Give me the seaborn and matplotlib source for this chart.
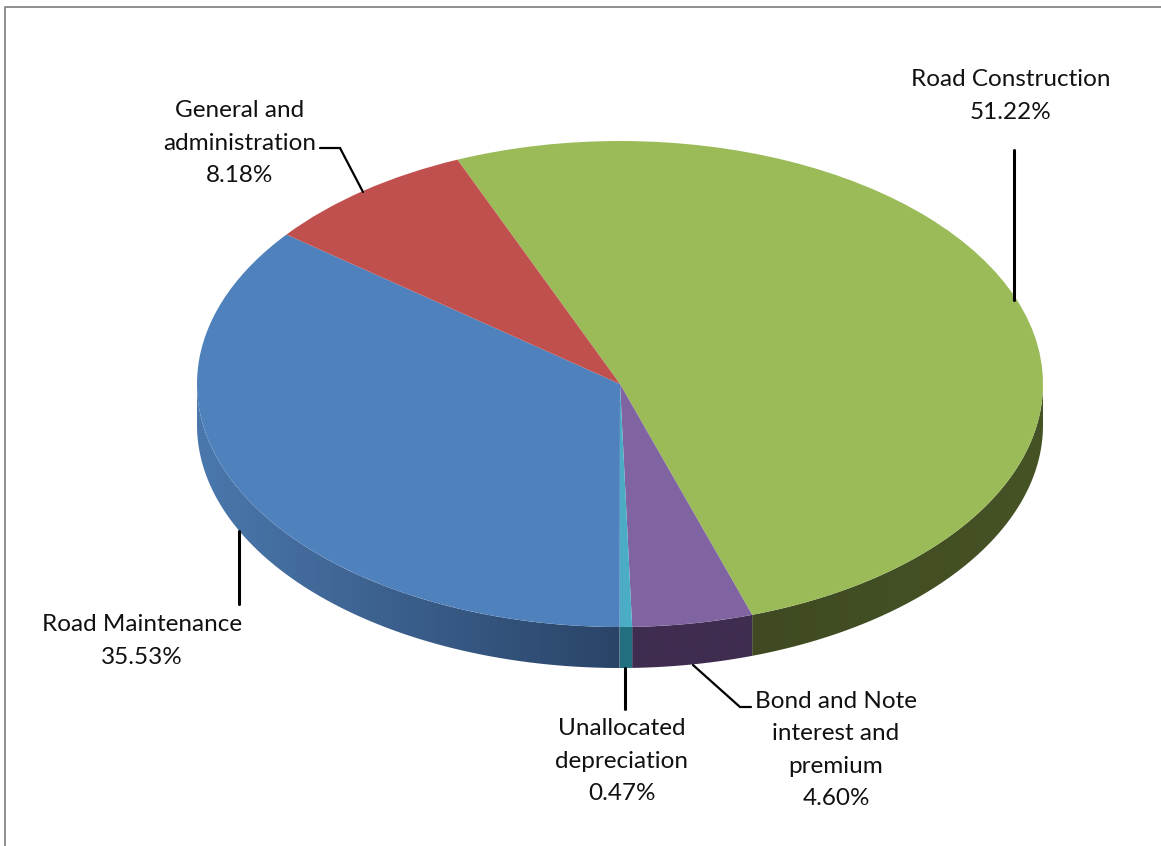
import numpy as np
import seaborn as sns
import matplotlib.pyplot as plt
from matplotlib.colors import to_rgb
from matplotlib.patches import Polygon

sns.set_theme(style="white")
plt.rcParams['font.family'] = ['Lato', 'DejaVu Sans']

categories = ["Road Construction", "Bond and Note\ninterest and\npremium", "Unallocated\ndepreciation",
              "Road Maintenance", "General and\nadministration"]
shares = [51.22, 4.60, 0.47, 35.53, 8.18]
top_colors = ["#9bbb59", "#8064a2", "#4bacc6", "#4f81bd", "#c0504d"]
side_left = ["#3f4a22", "#3f2d50", "#22707f", "#4a78ad", "#7a3230"]
side_right = ["#465325", "#3f2d50", "#22707f", "#2a4468", "#7a3230"]

# picture geometry of the squashed pie, in pixels
W, H = 1161, 846
CX, CY, RX, RY = 620, 384, 423, 243
DEPTH = 41 / RY


def px(x, y):
    return (x - CX) / RX, (CY - y) / RY


fig = plt.figure(figsize=(W / 100, H / 100), dpi=100)
ax = fig.add_axes([0, 0, 1, 1])

wedges, _ = ax.pie(shares, colors=sns.color_palette(top_colors), startangle=112.6,
                   counterclock=False, wedgeprops={"linewidth": 0})
ax.set_aspect("auto")

# the rim of the disc: one gradient per slice, clipped to the slice's lower arc
for wedge, left, right in zip(wedges, side_left, side_right):
    lo, hi = max(wedge.theta1, -180), min(wedge.theta2, 0)
    if lo >= hi:
        continue
    t = np.radians(np.linspace(lo, hi, 200))
    xs, ys = np.cos(t), np.sin(t)
    rim = np.r_[np.c_[xs, ys], np.c_[xs, ys - DEPTH][::-1]]
    ramp = np.linspace(0, 1, 256)[None, :, None]
    colors = np.array(to_rgb(left))[None, None, :] * (1 - ramp) + np.array(to_rgb(right))[None, None, :] * ramp
    img = ax.imshow(colors, extent=(xs.min(), xs.max(), -1 - DEPTH, 1), aspect="auto", zorder=0)
    clip = Polygon(rim, transform=ax.transData, facecolor="none", edgecolor="none")
    ax.add_patch(clip)
    img.set_clip_path(clip)

ax.set_xlim(-CX / RX, (W - CX) / RX)
ax.set_ylim((CY - H) / RY, CY / RY)
ax.axis("off")

# chart frame, only left and top show in the picture
ax.plot(*zip(px(5, H), px(5, 7), px(W, 7)), color="#868686", lw=1.3, clip_on=False)

labels = [f"{c}\n{v:.2f}%" for c, v in zip(categories, shares)]
label_pos = [(1011, 96), (836, 750), (622, 761), (142, 641), (240, 143)]
for text, (x, y) in zip(labels, label_pos):
    ax.text(*px(x, y), text, ha="center", va="center", fontsize=17.5, color="#111111", linespacing=1.67)

# leader lines
for pts, lw in [([(1014, 150), (1014, 300)], 2.2),
                ([(239, 531), (239, 604)], 2.2),
                ([(625, 668), (625, 709)], 2.2),
                ([(320, 148), (340, 148), (363, 192)], 1.6),
                ([(693, 665), (740, 707), (751, 707)], 1.6)]:
    ax.plot(*zip(*[px(x, y) for x, y in pts]), color="black", lw=lw, solid_joinstyle="miter")

fig.savefig("out.png", dpi=100)
